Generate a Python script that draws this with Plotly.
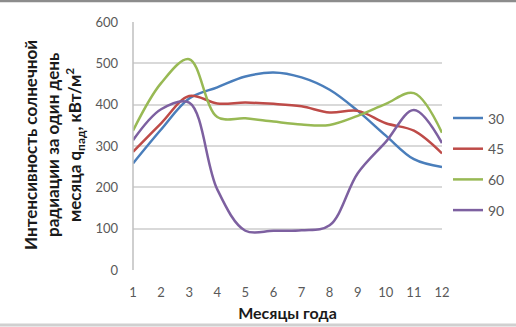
import plotly.graph_objects as go

months = list(range(1, 13))
series_names = ["30", "45", "60", "90"]
s30 = [258, 340, 415, 442, 468, 478, 466, 436, 385, 325, 268, 249]
s45 = [286, 355, 421, 403, 405, 402, 396, 381, 385, 355, 337, 282]
s60 = [337, 452, 510, 370, 367, 359, 352, 351, 373, 402, 428, 332]
s90 = [314, 389, 405, 195, 95, 95, 96, 108, 234, 310, 387, 307]
colors = ["#4A7EBB", "#BE4B48", "#98B954", "#7D60A0"]

FONT = "Lato"
L, R, T, B = 133, 74, 22, 57
W, H = 516, 327
PW, PH = W - L - R, H - T - B


def px(x):
    return (x - L) / PW


def py(y):
    return (H - B - y) / PH


fig = go.Figure()
for name, ys, c in zip(series_names, [s30, s45, s60, s90], colors):
    fig.add_trace(go.Scatter(x=months, y=ys, name=name, mode="lines",
                             line=dict(color=c, width=2.5, shape="spline", smoothing=1),
                             showlegend=False))

# legend (drawn as layout decorations)
shapes = [
    dict(type="line", xref="paper", yref="paper", x0=0, x1=0, y0=0, y1=1,
         line=dict(color="#bfbfbf", width=1.5)),
    dict(type="line", xref="paper", yref="paper", x0=-0.5, x1=1.3, y0=py(1), y1=py(1),
         line=dict(color="#8c8c8c", width=2.5)),
    dict(type="line", xref="paper", yref="paper", x0=-0.5, x1=1.3, y0=py(325), y1=py(325),
         line=dict(color="#d0d0d0", width=3)),
]
annotations = [dict(text="<b>Интенсивность солнечной<br>радиации за один день<br>месяца q<sub>пад</sub>, кВт/м<sup>2</sup></b>",
                    xref="paper", yref="paper", x=-0.256, y=0.504,
                    xanchor="center", yanchor="middle", textangle=-90,
                    showarrow=False, font=dict(family=FONT, size=17, color="#1a1a1a"))]
for i, (name, c) in enumerate(zip(series_names, colors)):
    yy = py(118 + i * 30.7)
    shapes.append(dict(type="line", xref="paper", yref="paper", x0=px(453), x1=px(483),
                       y0=yy, y1=yy, line=dict(color=c, width=2.5)))
    annotations.append(dict(text=name, xref="paper", yref="paper", x=px(486), y=yy,
                            xanchor="left", yanchor="middle", showarrow=False,
                            font=dict(family=FONT, size=14, color="#595959")))

fig.update_layout(
    width=W, height=H,
    margin=dict(l=L, r=R, t=T, b=B, autoexpand=False),
    paper_bgcolor="white", plot_bgcolor="white",
    font=dict(family=FONT, size=13, color="#595959"),
    showlegend=False,
    xaxis=dict(range=[1, 12], tickmode="array", tickvals=months,
               ticktext=[str(m) for m in months], showgrid=False,
               zeroline=False, showline=False, ticks="", ticklabelstandoff=13,
               title=dict(text="<b>Месяцы года</b>", font=dict(size=16, color="#1a1a1a"),
                          standoff=8)),
    yaxis=dict(range=[0, 600], tickvals=[0, 100, 200, 300, 400, 500, 600],
               showgrid=True, gridcolor="#d9d9d9", gridwidth=1.5,
               zeroline=False, showline=False, ticks="", ticklabelstandoff=14),
    annotations=annotations,
    shapes=shapes,
)
fig.write_html("out.html")
